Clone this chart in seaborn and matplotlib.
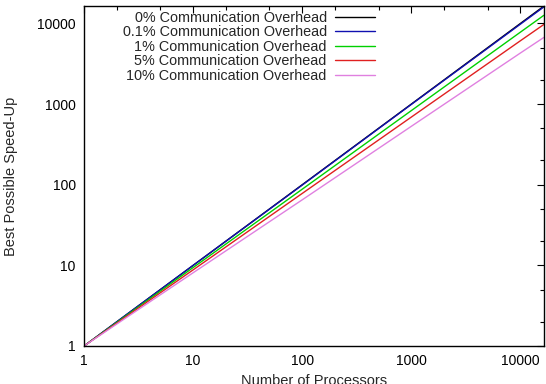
"""
Best possible speed-up vs number of processors, log-log.
"""

import matplotlib
matplotlib.use("Agg")
import matplotlib.pyplot as plt
import matplotlib.ticker as mticker
import seaborn as sns
import pandas as pd

# Values
processors = [1, 10, 100, 1000, 10000, 16384]
speedup_0 = [1, 10, 100, 1000, 10000, 16384]
speedup_01 = [1, 10, 99, 990, 9800, 16000]
speedup_1 = [1, 9.4, 88, 830, 7800, 12600]
speedup_5 = [1, 8.8, 78, 690, 6100, 9700]
speedup_10 = [1, 8.1, 65, 530, 4300, 6700]

labels = ["0% Communication Overhead", "0.1% Communication Overhead",
          "1% Communication Overhead", "5% Communication Overhead",
          "10% Communication Overhead"]
colors = ["#000000", "#1010b0", "#00d000", "#e02020", "#e080e0"]

series = [speedup_0, speedup_01, speedup_1, speedup_5, speedup_10]
df = pd.concat([
    pd.DataFrame({"Processors": processors, "SpeedUp": vals, "Overhead": lab})
    for lab, vals in zip(labels, series)
])

sns.set_style("white")
plt.rcParams["font.family"] = ["Liberation Sans", "DejaVu Sans"]

fig = plt.figure(figsize=(5.46, 3.84), dpi=100)
ax = fig.add_axes([0.154, 0.099, 0.842, 0.885])

sns.lineplot(data=df, x="Processors", y="SpeedUp", hue="Overhead",
             palette=dict(zip(labels, colors)), linewidth=1.0, ax=ax)

ax.set_xscale("log")
ax.set_yscale("log")
ax.set_xlim(1, 16384)
ax.set_ylim(1, 16384)

fmt = mticker.FuncFormatter(lambda v, p: f"{int(round(v))}")
for axis in (ax.xaxis, ax.yaxis):
    axis.set_major_locator(mticker.LogLocator(base=10))
    axis.set_major_formatter(fmt)
    axis.set_minor_locator(mticker.LogLocator(base=10, subs=(2, 5)))
    axis.set_minor_formatter(mticker.NullFormatter())

ax.tick_params(which="both", direction="in", top=True, right=True,
               labelsize=10, colors="black", width=0.8)
ax.tick_params(which="major", length=5, pad=6)
ax.tick_params(which="minor", length=3)
for s in ax.spines.values():
    s.set_color("black")
    s.set_linewidth(1.0)

ax.set_xlabel("Number of Processors", fontsize=10.5, labelpad=4)
ax.set_ylabel("Best Possible Speed-Up", fontsize=10.5, labelpad=14)

handles, labs = ax.get_legend_handles_labels()
leg = ax.legend(handles, labs, loc="upper right", bbox_to_anchor=(0.655, 1.016),
                frameon=False, markerfirst=False, fontsize=10.4,
                handlelength=2.75, handletextpad=0.6, labelspacing=0.035,
                borderpad=0.2)

fig.savefig("out.png", dpi=100)
